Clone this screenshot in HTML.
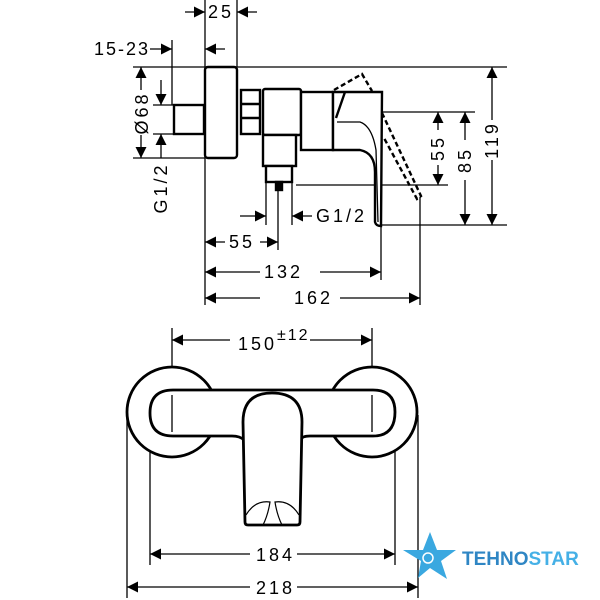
<!DOCTYPE html>
<html><head><meta charset="utf-8"><style>body{margin:0;background:#fff}svg{display:block}text{font-family:"Liberation Sans",sans-serif;fill:#000}</style></head><body>
<svg width="600" height="600" viewBox="0 0 600 600" xmlns="http://www.w3.org/2000/svg">
<defs>
<marker id="a" viewBox="0 0 10 10" refX="10" refY="5" markerWidth="11" markerHeight="11" markerUnits="userSpaceOnUse" orient="auto-start-reverse"><path d="M0,0 L10,5 L0,10z" fill="#000"/></marker>
</defs>
<g stroke="#000" fill="none" stroke-width="1.3">
<line x1="205" y1="0" x2="205" y2="305"/>
<line x1="237" y1="0" x2="237" y2="67"/>
<line x1="172" y1="40" x2="172" y2="105"/>
<line x1="133" y1="67" x2="507" y2="67"/>
<line x1="133" y1="158" x2="205" y2="158"/>
<line x1="153" y1="105" x2="174" y2="105"/>
<line x1="153" y1="134" x2="174" y2="134"/>
<line x1="383" y1="112" x2="475" y2="112"/>
<line x1="296" y1="185" x2="448" y2="185"/>
<line x1="380" y1="225" x2="507" y2="225"/>
<line x1="381" y1="225" x2="381" y2="280"/>
<line x1="420" y1="197" x2="420" y2="305"/>
<line x1="266" y1="182" x2="266" y2="225"/>
<line x1="292" y1="182" x2="292" y2="225"/>
<line x1="278" y1="190" x2="278" y2="250"/>
<line x1="185" y1="12" x2="205" y2="12" marker-end="url(#a)"/>
<line x1="257" y1="12" x2="237" y2="12" marker-end="url(#a)"/>
<line x1="225" y1="49" x2="205" y2="49" marker-end="url(#a)"/>
<line x1="150" y1="49" x2="172" y2="49" marker-end="url(#a)"/>
<line x1="141" y1="90" x2="141" y2="67" marker-end="url(#a)"/>
<line x1="141" y1="135" x2="141" y2="158" marker-end="url(#a)"/>
<line x1="161" y1="80" x2="161" y2="105" marker-end="url(#a)"/>
<line x1="161" y1="158" x2="161" y2="134" marker-end="url(#a)"/>
<line x1="240" y1="216" x2="266" y2="216" marker-end="url(#a)"/>
<line x1="312" y1="216" x2="292" y2="216" marker-end="url(#a)"/>
<line x1="225" y1="242" x2="205" y2="242" marker-end="url(#a)"/>
<line x1="260" y1="242" x2="278" y2="242" marker-end="url(#a)"/>
<line x1="260" y1="272" x2="205" y2="272" marker-end="url(#a)"/>
<line x1="320" y1="272" x2="381" y2="272" marker-end="url(#a)"/>
<line x1="260" y1="298" x2="205" y2="298" marker-end="url(#a)"/>
<line x1="340" y1="298" x2="420" y2="298" marker-end="url(#a)"/>
<line x1="438" y1="130" x2="438" y2="112" marker-end="url(#a)"/>
<line x1="438" y1="165" x2="438" y2="185" marker-end="url(#a)"/>
<line x1="465" y1="140" x2="465" y2="112" marker-end="url(#a)"/>
<line x1="465" y1="180" x2="465" y2="225" marker-end="url(#a)"/>
<line x1="492" y1="120" x2="492" y2="67" marker-end="url(#a)"/>
<line x1="492" y1="160" x2="492" y2="225" marker-end="url(#a)"/>
</g>
<g stroke="#000" fill="#fff" stroke-width="2.4">
<rect x="174" y="105" width="30" height="29"/>
<rect x="205" y="67" width="32" height="91" rx="3"/>
<rect x="241" y="90" width="19" height="44"/>
<line x1="241" y1="104" x2="260" y2="104"/><line x1="241" y1="118" x2="260" y2="118"/>
<rect x="263" y="89" width="38" height="46" rx="2"/>
<rect x="263" y="135" width="33" height="31"/>
<rect x="266" y="166" width="26" height="16"/>
<rect x="276" y="182" width="6" height="8" fill="#000"/>
<rect x="301" y="92" width="32" height="58"/>
<path d="M333,92 L333,150 L360,150 Q375,153 375,172 L375,222 Q376,226 381,226 L382,92 Z"/>
<path d="M345,92 L336,118" fill="none"/>
<path d="M337,122 L360,122 Q372,126 376,150 L378,222" fill="none" stroke-width="1.3"/>
</g>
<g stroke="#000" fill="none" stroke-width="2.4" stroke-dasharray="5,3">
<path d="M334,90 L362,74 L372,91"/>
<path d="M382,113 L421,196 L417,199 L384,138"/>
</g>
<g stroke="#000" fill="none" stroke-width="1.3">
<line x1="172" y1="328" x2="172" y2="432"/>
<line x1="372" y1="328" x2="372" y2="432"/>
<line x1="150" y1="415" x2="150" y2="565"/>
<line x1="395" y1="415" x2="395" y2="565"/>
<line x1="127" y1="415" x2="127" y2="598"/>
<line x1="418" y1="415" x2="418" y2="598"/>
<line x1="230" y1="340" x2="172" y2="340" marker-end="url(#a)"/>
<line x1="310" y1="340" x2="372" y2="340" marker-end="url(#a)"/>
<line x1="250" y1="554" x2="150" y2="554" marker-end="url(#a)"/>
<line x1="297" y1="554" x2="395" y2="554" marker-end="url(#a)"/>
<line x1="250" y1="587" x2="127" y2="587" marker-end="url(#a)"/>
<line x1="297" y1="587" x2="418" y2="587" marker-end="url(#a)"/>
</g>
<g stroke="#000" fill="#fff" stroke-width="2.8">
<circle cx="172" cy="412" r="45"/>
<circle cx="372" cy="412" r="45"/>
<path d="M173,390 L373,390 Q395,390 395,412 Q395,436 373,436 L310,436 Q302,436 300,440 L244,440 Q240,436 232,436 L173,436 Q150,436 150,413 Q150,390 173,390 Z"/>
<path d="M243,422 Q243,393 272,393 Q302,393 302,422 L300,522 Q300,525 297,525 L248,525 Q245,525 245,522 Z"/>
</g>
<line x1="172" y1="395" x2="172" y2="432" stroke="#000" stroke-width="1.3"/>
<line x1="372" y1="395" x2="372" y2="432" stroke="#000" stroke-width="1.3"/>
<path d="M246,515 Q255,500 270,502 Q268,515 263,525 M299,515 Q290,500 275,502 Q277,515 282,525" stroke="#000" fill="none" stroke-width="1.2"/>
<g font-size="18">
<text x="208" y="18" letter-spacing="3">25</text>
<text x="94" y="55" letter-spacing="2">15-23</text>
<text transform="translate(148,113) rotate(-90)" text-anchor="middle" letter-spacing="3">Ø68</text>
<text transform="translate(167,188) rotate(-90)" text-anchor="middle" letter-spacing="3">G1/2</text>
<text x="316" y="222" letter-spacing="3">G1/2</text>
<text x="229" y="248" letter-spacing="3">55</text>
<text x="264" y="278" letter-spacing="3">132</text>
<text x="294" y="304" letter-spacing="3">162</text>
<text transform="translate(444,148) rotate(-90)" text-anchor="middle" letter-spacing="3">55</text>
<text transform="translate(471,160) rotate(-90)" text-anchor="middle" letter-spacing="3">85</text>
<text transform="translate(498,140) rotate(-90)" text-anchor="middle" letter-spacing="3">119</text>
<text x="238" y="350" letter-spacing="3">150</text>
<text x="277" y="340" font-size="16" letter-spacing="2">±12</text>
<text x="256" y="561" letter-spacing="3">184</text>
<text x="256" y="594" letter-spacing="3">218</text>
</g>
<path d="M430,532 L437,550 L456,550 L441,561 L447,579 L430,568 L418,578 L421,561 L403,550 L423,550 Z" fill="#3aa8e0"/>
<circle cx="428" cy="558" r="5" fill="none" stroke="#fff" stroke-width="1.5"/>
<text x="462" y="565" font-size="19" font-weight="bold" style="fill:#2f86c4">TEHNO<tspan style="fill:#45b0e6">STAR</tspan></text>
</svg>
</body></html>
